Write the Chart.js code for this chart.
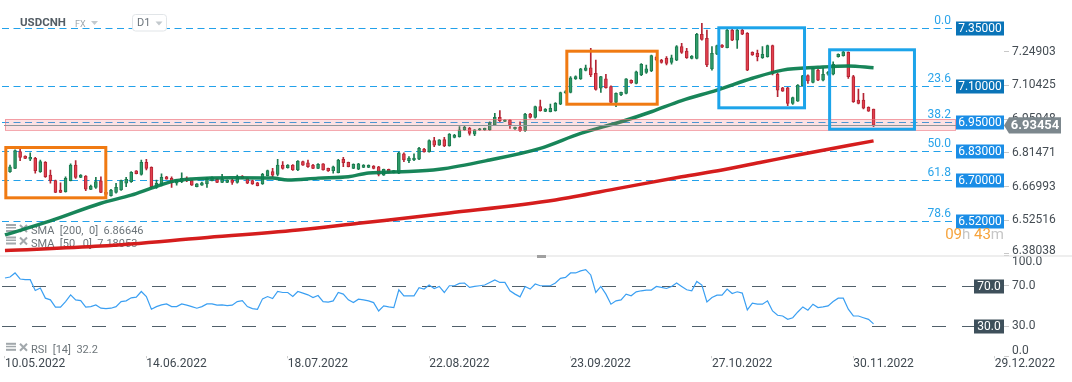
<!DOCTYPE html>
<html><head><meta charset="utf-8">
<script src="https://cdn.jsdelivr.net/npm/chart.js@4.4.1/dist/chart.umd.min.js"></script>
<style>
html,body{margin:0;padding:0;background:#fff;}
canvas{display:block;}
</style></head><body>
<canvas id="c" width="1072" height="382"></canvas>
<script>
// ---------------- data ----------------
const symbol = "USDCNH";
const market = "FX";
const interval = "D1";
const open = [
6.734,6.748,6.820,6.801,6.787,6.791,6.734,6.774,6.719,6.695,
6.655,6.648,6.695,6.762,6.709,6.715,6.658,6.666,6.694,6.645,
6.631,6.645,6.655,6.684,6.691,6.737,6.722,6.774,6.752,6.666,
6.676,6.712,6.705,6.684,6.691,6.705,6.695,6.669,6.676,6.681,
6.695,6.701,6.688,6.688,6.698,6.688,6.715,6.705,6.695,6.686,
6.681,6.717,6.734,6.722,6.762,6.751,6.762,6.741,6.777,6.772,
6.762,6.748,6.767,6.748,6.738,6.729,6.787,6.774,6.748,6.744,
6.752,6.752,6.758,6.755,6.719,6.744,6.729,6.727,6.810,6.781,
6.784,6.787,6.831,6.819,6.867,6.848,6.872,6.844,6.881,6.884,
6.913,6.920,6.895,6.913,6.913,6.913,6.934,6.967,6.950,6.956,
6.917,6.924,6.910,6.981,6.967,7.013,6.993,6.991,6.996,7.024,
7.073,7.074,7.132,7.132,7.169,7.180,7.156,7.092,7.132,7.099,
7.031,7.063,7.070,7.126,7.113,7.149,7.160,7.166,7.225,7.213,
7.221,7.203,7.213,7.271,7.252,7.220,7.220,7.324,7.306,7.175,
7.238,7.278,7.266,7.342,7.299,7.342,7.328,7.246,7.242,7.223,
7.228,7.275,7.152,7.094,7.094,7.027,7.037,7.103,7.146,7.117,
7.170,7.127,7.152,7.152,7.228,7.232,7.246,7.142,7.041,7.041,
7.010,7.003];
const high = [
6.762,6.827,6.831,6.802,6.815,6.795,6.784,6.777,6.741,6.698,
6.686,6.712,6.767,6.781,6.721,6.717,6.676,6.709,6.712,6.650,
6.658,6.684,6.698,6.709,6.734,6.738,6.784,6.787,6.755,6.698,
6.724,6.714,6.712,6.701,6.729,6.712,6.698,6.683,6.689,6.709,
6.712,6.704,6.722,6.699,6.705,6.719,6.717,6.708,6.698,6.688,
6.727,6.741,6.748,6.787,6.777,6.764,6.764,6.781,6.779,6.784,
6.765,6.768,6.768,6.749,6.758,6.787,6.795,6.775,6.767,6.770,
6.764,6.763,6.760,6.757,6.745,6.745,6.740,6.818,6.815,6.798,
6.810,6.838,6.834,6.870,6.881,6.872,6.881,6.897,6.894,6.927,
6.928,6.924,6.915,6.920,6.921,6.948,6.984,6.996,6.957,6.957,
6.925,6.948,6.984,6.984,7.015,7.041,7.005,7.024,7.030,7.076,
7.082,7.142,7.145,7.178,7.192,7.263,7.213,7.143,7.152,7.102,
7.072,7.076,7.134,7.128,7.166,7.198,7.192,7.235,7.230,7.216,
7.228,7.235,7.275,7.285,7.263,7.232,7.328,7.371,7.342,7.271,
7.278,7.280,7.345,7.345,7.345,7.345,7.331,7.248,7.256,7.271,
7.278,7.278,7.156,7.096,7.096,7.054,7.108,7.148,7.150,7.180,
7.173,7.178,7.165,7.206,7.240,7.256,7.249,7.148,7.089,7.070,
7.012,7.003];
const low = [
6.730,6.747,6.781,6.790,6.781,6.727,6.730,6.709,6.684,6.643,
6.643,6.646,6.694,6.705,6.708,6.652,6.656,6.662,6.643,6.632,
6.629,6.641,6.653,6.669,6.688,6.724,6.719,6.741,6.662,6.662,
6.672,6.701,6.666,6.676,6.686,6.691,6.675,6.668,6.675,6.666,
6.694,6.686,6.686,6.686,6.679,6.684,6.704,6.682,6.679,6.672,
6.679,6.715,6.712,6.715,6.744,6.749,6.739,6.738,6.761,6.752,
6.747,6.747,6.740,6.735,6.727,6.728,6.755,6.754,6.747,6.742,
6.751,6.751,6.746,6.715,6.718,6.728,6.728,6.725,6.777,6.772,
6.781,6.785,6.817,6.817,6.841,6.846,6.841,6.843,6.879,6.882,
6.911,6.891,6.888,6.911,6.911,6.911,6.931,6.948,6.948,6.920,
6.915,6.907,6.907,6.964,6.964,6.994,6.991,6.990,6.994,7.021,
7.070,7.072,7.130,7.130,7.167,7.142,7.084,7.074,7.092,7.027,
7.013,7.060,7.068,7.113,7.111,7.146,7.156,7.163,7.210,7.200,
7.192,7.195,7.211,7.242,7.220,7.218,7.218,7.299,7.185,7.170,
7.236,7.266,7.265,7.296,7.263,7.322,7.168,7.233,7.209,7.220,
7.226,7.149,7.056,7.078,7.017,7.023,7.035,7.101,7.113,7.115,
7.125,7.123,7.148,7.149,7.226,7.230,7.134,7.031,7.025,7.003,
6.992,6.927];
const close = [
6.755,6.824,6.795,6.791,6.795,6.738,6.777,6.712,6.695,6.645,
6.645,6.705,6.762,6.709,6.719,6.659,6.672,6.691,6.645,6.636,
6.655,6.666,6.695,6.701,6.731,6.725,6.774,6.748,6.669,6.684,
6.709,6.702,6.686,6.695,6.705,6.695,6.676,6.681,6.686,6.705,
6.709,6.688,6.701,6.698,6.688,6.712,6.705,6.684,6.681,6.674,
6.722,6.738,6.719,6.762,6.748,6.762,6.741,6.779,6.762,6.755,
6.748,6.765,6.741,6.737,6.755,6.784,6.772,6.755,6.765,6.767,
6.762,6.761,6.748,6.722,6.744,6.729,6.738,6.815,6.784,6.792,
6.792,6.834,6.819,6.867,6.848,6.870,6.844,6.895,6.891,6.913,
6.924,6.898,6.913,6.918,6.920,6.944,6.967,6.953,6.956,6.934,
6.924,6.910,6.981,6.967,7.013,6.996,7.003,7.006,7.027,7.073,
7.078,7.137,7.142,7.175,7.180,7.149,7.087,7.142,7.094,7.031,
7.070,7.074,7.132,7.115,7.163,7.195,7.175,7.232,7.215,7.203,
7.199,7.223,7.271,7.246,7.223,7.230,7.324,7.302,7.192,7.242,
7.275,7.268,7.342,7.299,7.342,7.324,7.170,7.235,7.228,7.238,
7.275,7.156,7.084,7.080,7.027,7.052,7.106,7.146,7.123,7.178,
7.127,7.152,7.160,7.195,7.238,7.249,7.142,7.034,7.027,7.006,
6.994,6.93454];

// SMA values read at bar indices
const sma50Idx = [-1,8,18,24,28,32,36,44,52,55,61,67,71,79,85,95,105,113,121,127,133,140,147,153,160,166,171];
const sma50    = [6.462,6.522,6.598,6.633,6.663,6.691,6.702,6.708,6.706,6.698,6.706,6.712,6.728,6.734,6.744,6.784,6.834,6.898,6.948,6.991,7.039,7.084,7.135,7.170,7.182,7.188,7.180];
const sma200Idx = [-1,18,38,57,69,87,108,121,133,141,149,156,171];
const sma200    = [6.395,6.414,6.449,6.483,6.512,6.556,6.612,6.664,6.712,6.741,6.775,6.805,6.866];

// RSI(14), first value belongs to bar index -1
const rsiStart = -1;
const rsi = [77.7,
78.7,82.7,76.7,76,76,65.3,67.7,57.7,56,48.7,
48.7,54.3,61,56,55.3,48.7,49.3,51,47.7,47.3,
47.7,49.3,54.3,55,58,58.7,64.3,59.3,46.7,49.3,
51,52,49.3,49.3,52,50.7,49.3,47.7,49.3,52,
52,50.7,51,50.3,50.7,54.3,55.3,49.3,47.3,46.7,
57,59.3,57.3,64.3,63.3,63.3,59.3,64.3,62.7,61,
58.3,60.3,54.3,53.7,55,63.3,61.7,56,53.3,56.7,
56,55,53.3,45,50,49,48.3,66,60,60,
60,68,66.7,70.7,67.3,69.3,63.3,70,70,72.3,
72.7,68.3,69.3,70,70.7,73.3,75.7,73.3,73.3,65,
61.7,59,69.3,66.7,71.7,70,70,70,72.7,77.3,
78.3,82.7,82.7,84.7,86,80.7,63.3,69.3,61.7,51.7,
55,56,61.7,60,64,65,65.7,65.7,69.3,68.3,
67.3,69.3,72.7,69.3,66,65,74.3,70.7,54,58.3,
60.7,60.7,66.7,62.3,64,62.7,46,52.7,51.7,51.7,
55,45,40.7,40,36.7,38.3,44,49,45.7,51.7,
48.3,49,50,54.3,57.7,57.7,46.7,40,40,38.3,
36.7,32.2];

const dateTickIdx    = [-1,27,55,83,111,139,167,195];
const dateTickLabels = ["10.05.2022","14.06.2022","18.07.2022","22.08.2022","23.09.2022","27.10.2022","30.11.2022","29.12.2022"];
const priceTicks = [7.24903,7.10425,6.95948,6.81471,6.66993,6.52516,6.38038];
const rsiTicks   = [100,70,30,0];
const rsiLevels  = [70,30];

const fibPct   = ["0.0","23.6","38.2","50.0","61.8","78.6"];
const fibLevel = [7.350,7.101,6.947,6.822,6.697,6.520];
const fibLabel = ["7.35000","7.10000","6.95000","6.83000","6.70000","6.52000"];

const lastPrice = 6.93454;
const zoneTop = 6.960, zoneBottom = 6.914;

// highlighted boxes: bar index range and price range
const boxFrom = [-0.83, 110.26, 140.36, 162.3];
const boxTo   = [18.97, 128.16, 157.33, 179.1];
const boxHigh = [6.8375, 7.2512, 7.3517, 7.2572];
const boxLow  = [6.6214, 7.0235, 7.0080, 6.9161];
const boxKind = ["orange","orange","blue","blue"];

const legendTexts = ["SMA  [200,  0]  6.86646", "SMA  [50,  0]  7.18053", "RSI  [14]  32.2"];
const countdown = ["09","43"];

// ---------------- styles ----------------
const F = 'Roboto, "Liberation Sans", "DejaVu Sans", sans-serif';
const GREEN_BODY = '#2f9c6a', GREEN_EDGE = '#1b7a4e';
const RED_BODY = '#e2404e', RED_EDGE = '#b42433';
const BOX_COLORS = {orange:'#f07a12', blue:'#1ca4ea'};

const idx = open.map((_, i) => i);
const isUp = i => close[i] >= open[i];

const overlay = {
  id: 'overlay',
  beforeDatasetsDraw(chart) {
    const {ctx, chartArea: ca, scales: {y, yR}} = chart;
    const boxL = ca.right - 48;
    ctx.save();
    // fibonacci dashed levels
    ctx.lineWidth = 1;
    ctx.strokeStyle = '#22a1ea';
    ctx.setLineDash([7, 4.5]);
    fibLevel.forEach(v => {
      const py = Math.round(y.getPixelForValue(v)) + 0.5;
      ctx.beginPath(); ctx.moveTo(ca.left - 2, py); ctx.lineTo(boxL - 1, py); ctx.stroke();
    });
    // RSI levels
    ctx.strokeStyle = '#51606a';
    ctx.setLineDash([14, 16]);
    rsiLevels.forEach(v => {
      const py = Math.round(yR.getPixelForValue(v)) + 0.5;
      ctx.beginPath(); ctx.moveTo(ca.left - 2, py); ctx.lineTo(ca.right - 30, py); ctx.stroke();
    });
    ctx.setLineDash([]);
    // legends (under the lines)
    const rows = [y.bottom - 24.5, y.bottom - 12, yR.bottom - 6.5];
    rows.forEach((yc, k) => {
      const ic = yc - 2.5;
      ctx.fillStyle = '#a2a8ac';
      ctx.fillRect(6, ic - 4.5, 10, 2);
      ctx.fillRect(6, ic - 1.5, 10, 1.5);
      ctx.fillRect(6, ic + 1.5, 10, 2);
      ctx.strokeStyle = '#a2a8ac'; ctx.lineWidth = 2;
      ctx.beginPath();
      ctx.moveTo(20, ic - 3.5); ctx.lineTo(27, ic + 3.5);
      ctx.moveTo(27, ic - 3.5); ctx.lineTo(20, ic + 3.5);
      ctx.stroke();
      ctx.fillStyle = '#6d757a';
      ctx.font = `11px ${F}`;
      ctx.textAlign = 'left'; ctx.textBaseline = 'middle';
      ctx.fillText(legendTexts[k], 31, yc + 0.5);
    });
    ctx.restore();
  },
  afterDatasetsDraw(chart) {
    const {ctx, chartArea: ca, scales: {x, y, yR}} = chart;
    const boxL = ca.right - 48;
    ctx.save();
    // support zone band (drawn over the candles)
    const by0 = Math.round(y.getPixelForValue(zoneTop)), by1 = Math.round(y.getPixelForValue(zoneBottom));
    ctx.fillStyle = 'rgba(240,105,115,0.2)';
    ctx.fillRect(ca.left + 1, by0, boxL - ca.left - 1, by1 - by0);
    ctx.strokeStyle = 'rgba(236,112,122,0.6)'; ctx.lineWidth = 1;
    ctx.strokeRect(ca.left + 1.5, by0 + 0.5, boxL - ca.left - 2, by1 - by0);
    // last price line
    const pp = Math.round(y.getPixelForValue(lastPrice)) + 0.5;
    ctx.strokeStyle = '#8d979c';
    ctx.beginPath(); ctx.moveTo(ca.left, pp); ctx.lineTo(boxL, pp); ctx.stroke();
    // highlight boxes
    ctx.lineWidth = 3;
    boxFrom.forEach((b, k) => {
      const x0 = x.getPixelForValue(b), x1 = x.getPixelForValue(boxTo[k]);
      const y0 = y.getPixelForValue(boxHigh[k]), y1 = y.getPixelForValue(boxLow[k]);
      ctx.strokeStyle = BOX_COLORS[boxKind[k]];
      ctx.strokeRect(x0, y0, x1 - x0, y1 - y0);
    });
    ctx.lineWidth = 1;
    // fib label boxes and percentages
    ctx.textBaseline = 'middle';
    fibLevel.forEach((v, k) => {
      const py = y.getPixelForValue(v);
      ctx.fillStyle = k < 2 ? '#0a74b8' : '#1a8de6';
      ctx.fillRect(boxL, Math.round(py) - 6.5, 48, 14);
      ctx.fillStyle = '#ffffff';
      ctx.font = `12px ${F}`; ctx.textAlign = 'center';
      ctx.fillText(fibLabel[k], boxL + 24, py + 1);
      ctx.fillStyle = '#2aa4ea';
      ctx.textAlign = 'right';
      ctx.fillText(fibPct[k], boxL - 5, py - 7.5);
    });
    // RSI level boxes
    rsiLevels.forEach(v => {
      const py = yR.getPixelForValue(v);
      ctx.fillStyle = '#3e505b';
      ctx.fillRect(ca.right - 30, Math.round(py) - 6.5, 30, 14);
      ctx.fillStyle = '#ffffff'; ctx.textAlign = 'center';
      ctx.font = `12px ${F}`;
      ctx.fillText(v.toFixed(1), ca.right - 15, py + 1);
    });
    // right axis labels (kept inside their pane)
    ctx.fillStyle = '#454d54'; ctx.textAlign = 'left'; ctx.font = `12px ${F}`;
    [[y, priceTicks, 5], [yR, rsiTicks, 1]].forEach(([s, ticks, dec]) => {
      ticks.forEach(v => {
        let py = s.getPixelForValue(v);
        py = Math.max(s.top + 6.5, Math.min(s.bottom - 5, py));
        ctx.fillText(v.toFixed(dec), ca.right + 8, py);
      });
    });
    // current price tag
    const pc = y.getPixelForValue(lastPrice) + 0.5;
    const r0 = ca.right;
    ctx.fillStyle = '#7c878d';
    ctx.beginPath();
    ctx.moveTo(r0, pc); ctx.lineTo(r0 + 5, pc - 8.2); ctx.lineTo(r0 + 57, pc - 8.2);
    ctx.lineTo(r0 + 57, pc + 8.2); ctx.lineTo(r0 + 5, pc + 8.2); ctx.closePath(); ctx.fill();
    ctx.fillStyle = '#ffffff'; ctx.font = `bold 13px ${F}`; ctx.textAlign = 'center';
    ctx.fillText(lastPrice.toFixed(5), r0 + 31, pc + 0.5);
    // countdown
    const cy = y.getPixelForValue(fibLevel[fibLevel.length - 1]) + 14;
    const parts = [[countdown[0], '#f6a33b'], ['h ', '#c6c6c6'], [countdown[1], '#f6a33b'], ['m', '#c6c6c6']];
    ctx.font = `15px ${F}`; ctx.textAlign = 'left';
    let tw = 0; parts.forEach(p => tw += ctx.measureText(p[0]).width);
    let cx = ca.right - tw;
    parts.forEach(p => { ctx.fillStyle = p[1]; ctx.fillText(p[0], cx, cy); cx += ctx.measureText(p[0]).width; });
    // pane separator
    ctx.fillStyle = '#dedede';
    ctx.fillRect(0, Math.round(y.bottom) - 0.5, chart.width, 1);
    ctx.fillStyle = '#a0a0a0';
    ctx.fillRect(537, Math.round(y.bottom) - 1, 9, 3);
    // header
    ctx.textAlign = 'left';
    ctx.fillStyle = '#545d65'; ctx.font = `bold 11.5px ${F}`;
    ctx.fillText(symbol, 20, 23.5);
    ctx.fillStyle = '#9ea7ad'; ctx.font = `9px ${F}`;
    ctx.fillText(market, 75, 25);
    ctx.fillStyle = '#c3c9cd';
    ctx.beginPath(); ctx.moveTo(91, 21); ctx.lineTo(98, 21); ctx.lineTo(94.5, 25); ctx.closePath(); ctx.fill();
    ctx.fillStyle = '#ffffff'; ctx.strokeStyle = '#e1e5e8';
    ctx.beginPath(); ctx.roundRect(132.5, 14.5, 34, 16.5, 3); ctx.fill(); ctx.stroke();
    ctx.fillStyle = '#6b747b'; ctx.font = `11px ${F}`;
    ctx.fillText(interval, 137, 23.5);
    ctx.fillStyle = '#c3c9cd';
    ctx.beginPath(); ctx.moveTo(155.5, 21.5); ctx.lineTo(162.5, 21.5); ctx.lineTo(159, 25.5); ctx.closePath(); ctx.fill();
    ctx.restore();
  }
};

new Chart(document.getElementById('c'), {
  type: 'bar',
  data: {
    datasets: [
      { type: 'line', label: 'RSI', yAxisID: 'yR',
        data: rsi.map((v, k) => ({x: rsiStart + k, y: v})),
        borderColor: '#3a9ff2', borderWidth: 1.2, pointRadius: 0, tension: 0, order: 0 },
      { type: 'line', label: 'SMA 50', yAxisID: 'y',
        data: sma50Idx.map((b, k) => ({x: b, y: sma50[k]})),
        borderColor: 'rgba(12,126,80,0.95)', borderWidth: 3.5, pointRadius: 0,
        cubicInterpolationMode: 'monotone', order: 1 },
      { type: 'line', label: 'SMA 200', yAxisID: 'y',
        data: sma200Idx.map((b, k) => ({x: b, y: sma200[k]})),
        borderColor: '#d51d1d', borderWidth: 3.5, pointRadius: 0,
        cubicInterpolationMode: 'monotone', order: 2 },
      { type: 'bar', label: 'body', yAxisID: 'y', grouped: false,
        data: idx.map(i => ({x: i, y: [open[i], close[i]]})),
        barThickness: 3, minBarLength: 1, borderWidth: 1, borderSkipped: false,
        backgroundColor: c => isUp(c.dataIndex) ? GREEN_BODY : RED_BODY,
        borderColor: c => isUp(c.dataIndex) ? GREEN_EDGE : RED_EDGE, order: 3 },
      { type: 'bar', label: 'wick', yAxisID: 'y', grouped: false,
        data: idx.map(i => ({x: i, y: [low[i], high[i]]})),
        barThickness: 1, minBarLength: 1, borderWidth: 0,
        backgroundColor: c => isUp(c.dataIndex) ? GREEN_EDGE : RED_EDGE, order: 4 }
    ]
  },
  options: {
    responsive: false, animation: false, devicePixelRatio: 1,
    layout: {padding: {left: 4, right: 0, top: 0, bottom: 11.7}},
    plugins: {legend: {display: false}, tooltip: {enabled: false}},
    scales: {
      x: {
        type: 'linear', position: 'bottom', min: -1.19, max: 196.83, bounds: 'data', offset: false,
        grid: {display: true, offset: false, drawOnChartArea: false, drawTicks: true, tickLength: 2, color: '#cfcfcf'},
        border: {display: false},
        ticks: {autoSkip: false, maxRotation: 0, minRotation: 0, align: 'start', padding: 0,
          color: '#3f4850', font: {family: F, size: 12, lineHeight: 1},
          callback: v => { const k = dateTickIdx.indexOf(v); return k >= 0 ? dateTickLabels[k] : ''; }},
        afterBuildTicks: s => { s.ticks = dateTickIdx.map(v => ({value: v})); }
      },
      y: {
        type: 'linear', position: 'right', stack: 'panes', stackWeight: 2.535,
        min: 6.3736, max: 7.47111, bounds: 'data',
        grid: {drawOnChartArea: false, drawTicks: true, tickLength: 5, color: '#c8c8c8'},
        border: {display: false},
        ticks: {display: false},
        afterBuildTicks: s => { s.ticks = priceTicks.map(v => ({value: v})); },
        afterFit: s => { s.width = 68; }
      },
      yR: {
        type: 'linear', position: 'right', stack: 'panes', stackWeight: 1,
        min: 0, max: 100, bounds: 'data',
        grid: {drawOnChartArea: false, drawTicks: true, tickLength: 5, color: '#c8c8c8'},
        border: {display: false},
        ticks: {display: false},
        afterBuildTicks: s => { s.ticks = rsiTicks.map(v => ({value: v})); },
        afterFit: s => { s.width = 68; }
      }
    }
  },
  plugins: [overlay]
});
</script>
</body></html>
